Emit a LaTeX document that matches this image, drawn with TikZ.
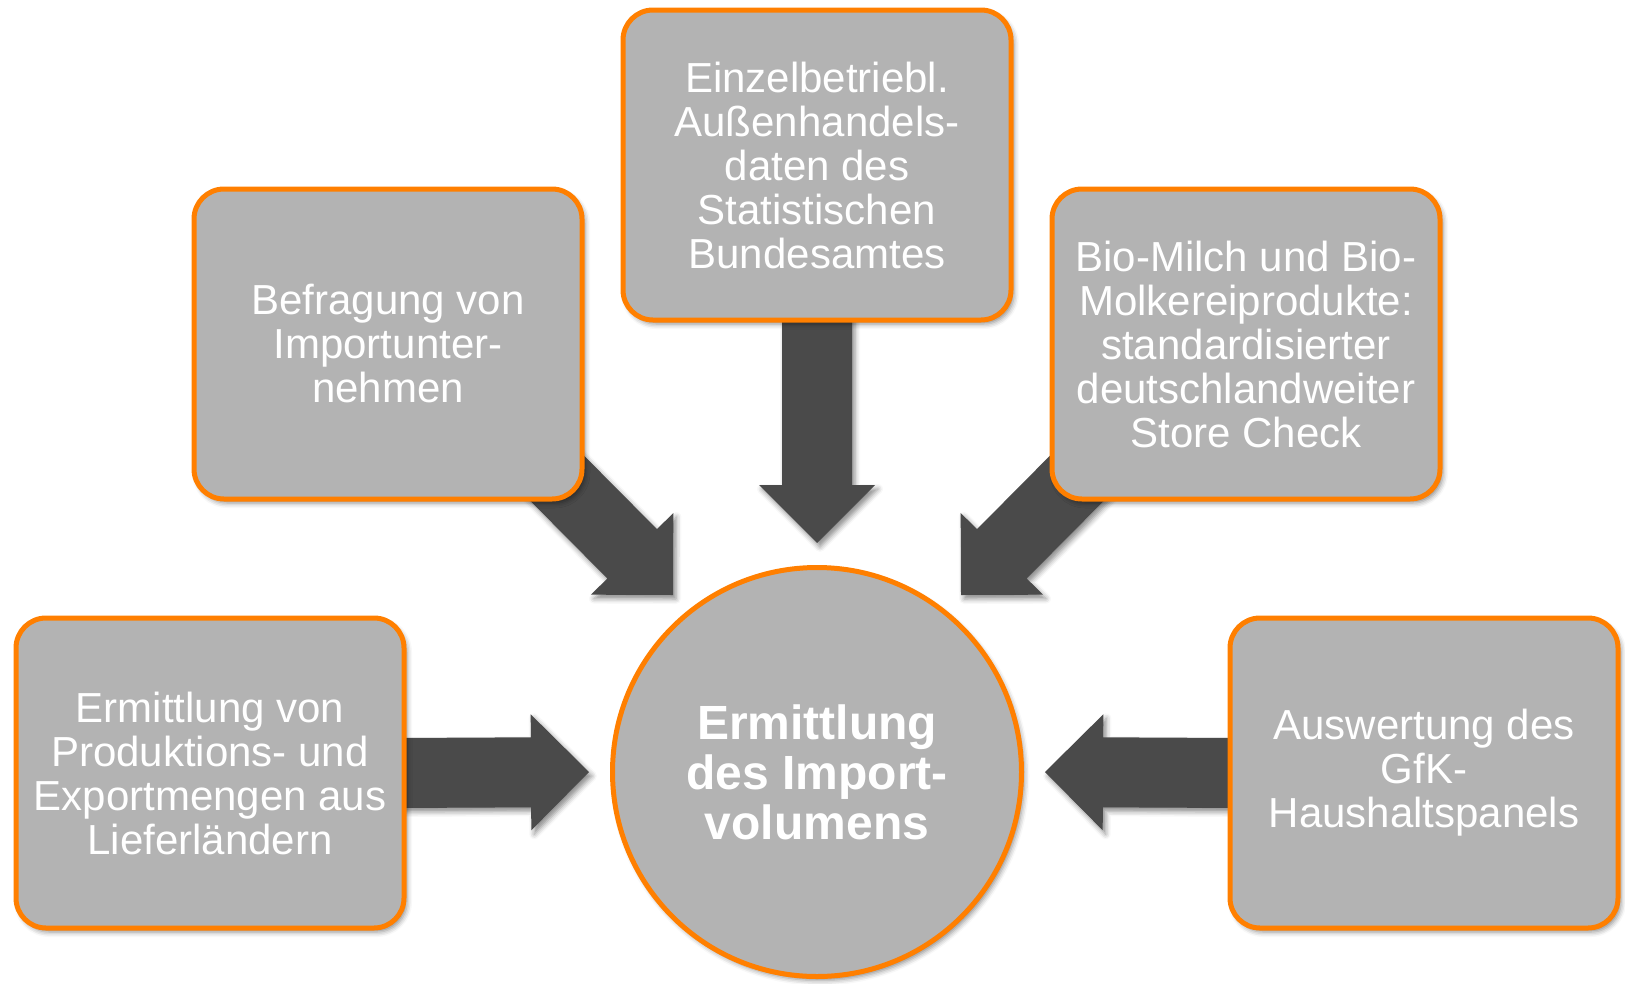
\documentclass[tikz,border=0pt]{standalone}
\usepackage{fontspec}
\setmainfont{Liberation Sans}
\usepackage{xcolor}
\usepackage{tikz}
\usetikzlibrary{calc,backgrounds,shadows.blur}

\definecolor{boxgray}{HTML}{B3B3B3}
\definecolor{boxorange}{HTML}{FF7F00}
\definecolor{arrowgray}{HTML}{4A4A4A}

\tikzset{
    softshadow/.style={blur shadow={shadow xshift=3pt, shadow yshift=-4pt,
        shadow blur radius=5pt, shadow opacity=45}},
    sourcebox/.style={rectangle, rounded corners=30pt, draw=boxorange, line width=5pt,
        fill=boxgray, text=white, align=center, minimum width=388pt, minimum height=310pt,
        inner sep=0pt, softshadow, font=\fontsize{42}{44}\selectfont},
    targetcircle/.style={circle, draw=boxorange, line width=5pt, fill=boxgray,
        text=white, align=center, minimum size=409pt, inner sep=0pt, softshadow,
        font=\fontsize{48}{50}\bfseries\selectfont},
    arrowfill/.style={fill=arrowgray, softshadow}
}

% block arrow: #1 start (under the box), #2 tip
\newcommand{\dataarrow}[2]{
    \coordinate (h) at ($(#2)!58pt!(#1)$);
    \fill[arrowfill] ($(#1)!35pt!90:(#2)$) -- ($(h)!35pt!90:(#2)$) -- ($(h)!58pt!90:(#2)$)
        -- (#2) -- ($(h)!58pt!-90:(#2)$) -- ($(h)!35pt!-90:(#2)$) -- ($(#1)!35pt!-90:(#2)$) -- cycle;
}

\begin{document}
\begin{tikzpicture}[x=1pt,y=-1pt]
        \useasboundingbox (0,0) rectangle (1625,983);

        % the sources
        \node[sourcebox] (einzel) at (817,165) {Einzelbetriebl.\\Außenhandels-\\daten des\\Statistischen\\Bundesamtes};
        \node[sourcebox] (befragung) at (388,344) {Befragung von\\Importunter-\\nehmen};
        \node[sourcebox] (biomilch) at (1246,344) {Bio-Milch und Bio-\\Molkereiprodukte:\\standardisierter\\deutschlandweiter\\Store Check};
        \node[sourcebox] (ermittlung) at (210,773) {Ermittlung von\\Produktions- und\\Exportmengen aus\\Lieferländern};
        \node[sourcebox] (auswertung) at (1424,773) {Auswertung des\\GfK-\\Haushaltspanels};

        % what they all go into
        \node[targetcircle] (ziel) at (817,772) {Ermittlung\\des Import-\\volumens};

        % start and tip of each arrow
        \coordinate (s1) at ($(einzel.south)+(0,-10)$);
        \coordinate (t1) at ($(ziel.north)+(0,-22)$);
        \coordinate (s2) at ($(befragung.south east)+(-40,-36)$);
        \coordinate (t2) at ($(ziel.center)+(-144,-177)$);
        \coordinate (s3) at ($(biomilch.south west)+(40,-36)$);
        \coordinate (t3) at ($(ziel.center)+(144,-177)$);
        \coordinate (s4) at ($(ermittlung.east)+(-10,0)$);
        \coordinate (t4) at ($(ziel.west)+(-21,0)$);
        \coordinate (s5) at ($(auswertung.west)+(10,0)$);
        \coordinate (t5) at ($(ziel.east)+(21,0)$);

        % arrows go behind the boxes
        \begin{scope}[on background layer]
            \dataarrow{s1}{t1}
            \dataarrow{s2}{t2}
            \dataarrow{s3}{t3}
            \dataarrow{s4}{t4}
            \dataarrow{s5}{t5}
        \end{scope}
    \end{tikzpicture}
\end{document}
